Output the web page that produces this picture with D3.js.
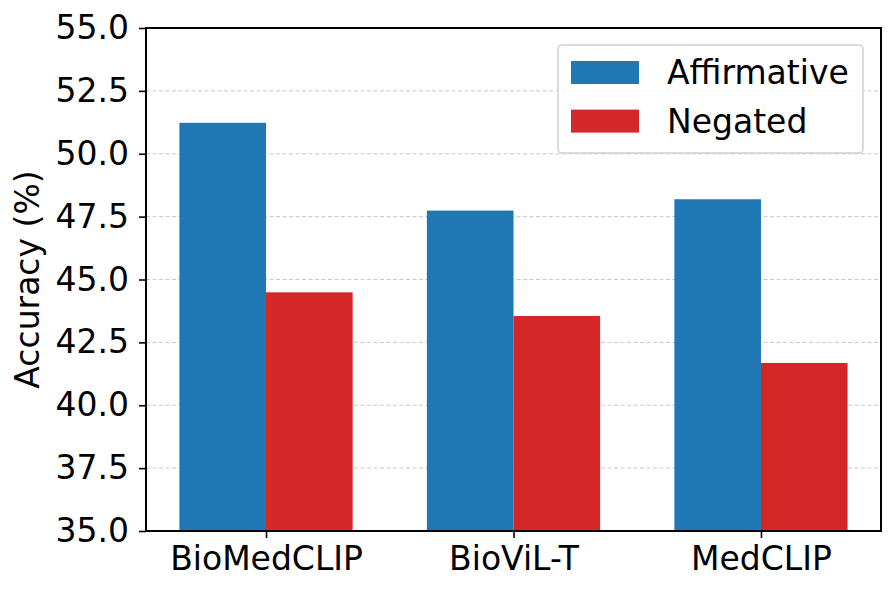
<!DOCTYPE html>
<html>
<head>
<meta charset="utf-8">
<script src="https://cdn.jsdelivr.net/npm/d3@7"></script>
<style>
  body { margin: 0; background: #fff; }
  svg { font-family: "DejaVu Sans", sans-serif; }
</style>
</head>
<body>
<svg id="chart" width="896" height="594"></svg>
<script>
var models = ["BioMedCLIP", "BioViL-T", "MedCLIP"];
var affirmative = [51.23, 47.74, 48.19];
var negated = [44.49, 43.55, 41.68];
var seriesNames = ["Affirmative", "Negated"];
var seriesColors = ["#1f77b4", "#d62728"];
var yTicks = [35.0, 37.5, 40.0, 42.5, 45.0, 47.5, 50.0, 52.5, 55.0];

var margin = {top: 28, right: 15, bottom: 63, left: 146};
var width = 896 - margin.left - margin.right,
    height = 594 - margin.top - margin.bottom;
var barW = 0.35;
var fs = 33;

var svg = d3.select("#chart");
var g = svg.append("g").attr("transform", `translate(${margin.left},${margin.top})`);

// x is linear over group index, like matplotlib with 5% margins
var x = d3.scaleLinear().domain([-0.485, 2.485]).range([0, width]);
var y = d3.scaleLinear().domain([35, 55]).range([height, 0]);

// gridlines
g.append("g")
  .selectAll("line")
  .data(yTicks)
  .join("line")
  .attr("x1", 0).attr("x2", width)
  .attr("y1", d => y(d)).attr("y2", d => y(d))
  .attr("stroke", "#b0b0b0")
  .attr("stroke-opacity", 0.7)
  .attr("stroke-width", 1)
  .attr("stroke-dasharray", "4,2.5");

var series = [affirmative, negated];
series.forEach(function(vals, si) {
  g.append("g")
    .selectAll("rect")
    .data(vals)
    .join("rect")
    .attr("x", (d, i) => x(i + (si === 0 ? -barW : 0)))
    .attr("y", d => y(d))
    .attr("width", x(barW) - x(0))
    .attr("height", d => y(35) - y(d))
    .attr("fill", seriesColors[si]);
});

// axes
var yAxis = g.append("g")
  .call(d3.axisLeft(y).tickValues(yTicks).tickFormat(d3.format(".1f")).tickSize(7).tickPadding(10));
var xAxis = g.append("g")
  .attr("transform", `translate(0,${height})`)
  .call(d3.axisBottom(x).tickValues([0, 1, 2]).tickFormat(i => models[i]).tickSize(7).tickPadding(9));

[yAxis, xAxis].forEach(function(a) {
  a.select(".domain").remove();
  a.selectAll("text").attr("font-size", fs).attr("font-family", "DejaVu Sans").attr("fill", "#000");
  a.selectAll("line").attr("stroke", "#000").attr("stroke-width", 1.6);
});

// frame
g.append("rect")
  .attr("width", width).attr("height", height)
  .attr("fill", "none").attr("stroke", "#000").attr("stroke-width", 2);

// y label
svg.append("text")
  .attr("transform", `translate(39,${margin.top + height / 2}) rotate(-90)`)
  .attr("text-anchor", "middle")
  .attr("font-size", fs)
  .text("Accuracy (%)");

// legend
var leg = svg.append("g").attr("transform", "translate(558,45)");
leg.append("rect")
  .attr("width", 305).attr("height", 108)
  .attr("rx", 4)
  .attr("fill", "#fff").attr("fill-opacity", 0.8)
  .attr("stroke", "#d0d0d0").attr("stroke-width", 1.5);
seriesNames.forEach(function(name, i) {
  leg.append("rect")
    .attr("x", 13).attr("y", 16 + i * 48.6)
    .attr("width", 68).attr("height", 23)
    .attr("fill", seriesColors[i]);
  leg.append("text")
    .attr("x", 109).attr("y", 27.5 + i * 48.6)
    .attr("dy", "0.35em")
    .attr("font-size", fs)
    .text(name);
});
</script>
</body>
</html>
